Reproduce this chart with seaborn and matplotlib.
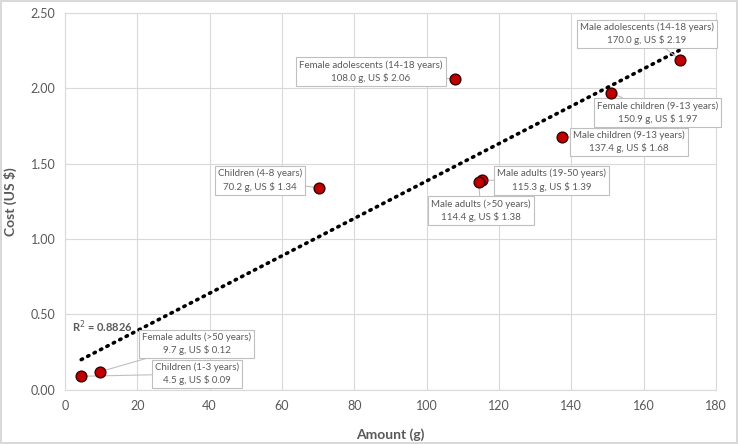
import numpy as np
import pandas as pd
import matplotlib
matplotlib.use("Agg")
import matplotlib.pyplot as plt
import seaborn as sns

# data
groups = [
    "Children (1-3 years)",
    "Children (4-8 years)",
    "Male children (9-13 years)",
    "Female children (9-13 years)",
    "Male adolescents (14-18 years)",
    "Female adolescents (14-18 years)",
    "Male adults (19-50 years)",
    "Male adults (>50 years)",
    "Female adults (>50 years)",
]
amount_g = [4.5, 70.2, 137.4, 150.9, 170.0, 108.0, 115.3, 114.4, 9.7]
cost_usd = [0.09, 1.34, 1.68, 1.97, 2.19, 2.06, 1.39, 1.38, 0.12]
r2_label = "R$^2$ = 0.8826"

# where each data label box sits (data coords)
label_pos = [
    (36.5, 0.106), (53.9, 1.39), (155.9, 1.645), (163.9, 1.84), (160.9, 2.36),
    (84.6, 2.11), (134.6, 1.39), (115.0, 1.19), (36.5, 0.305),
]

df = pd.DataFrame({"group": groups, "amount": amount_g, "cost": cost_usd})

sns.set_style("whitegrid")
plt.rcParams["font.family"] = ["Lato", "DejaVu Sans"]

fig, ax = plt.subplots(figsize=(7.38, 4.44), dpi=100)
fig.subplots_adjust(left=0.088, right=0.970, top=0.971, bottom=0.122)
fig.patch.set_edgecolor("#D9D9D9")
fig.patch.set_linewidth(1.5)

# linear trendline
slope, intercept = np.polyfit(df["amount"], df["cost"], 1)
xs = np.array([df["amount"].min(), df["amount"].max()])
ax.plot(xs, slope * xs + intercept, color="black", lw=2.6,
        linestyle=(0, (0.4, 1.6)), dash_capstyle="round", zorder=2)

sns.scatterplot(data=df, x="amount", y="cost", ax=ax, s=60, color="#C00000",
                edgecolor="#3a0000", linewidth=1.0, zorder=4)

for g, x, y, (lx, ly) in zip(groups, amount_g, cost_usd, label_pos):
    ax.annotate(f"{g}\n{x:.1f} g, US $ {y:.2f}", xy=(x, y), xytext=(lx, ly),
                ha="center", va="center", fontsize=7, color="#595959",
                linespacing=1.4,
                bbox=dict(boxstyle="square,pad=0.3", fc="white", ec="#BFBFBF", lw=0.8),
                arrowprops=dict(arrowstyle="-", color="#BFBFBF", lw=0.8,
                                shrinkA=0, shrinkB=2),
                zorder=3)

ax.text(2.0, 0.42, r2_label, fontsize=8, fontweight="bold",
        color="#595959", ha="left", va="center")

ax.set_xlim(0, 180)
ax.set_ylim(0, 2.5)
ax.set_xticks(np.arange(0, 181, 20))
ax.set_yticks(np.arange(0, 2.51, 0.5))
ax.yaxis.set_major_formatter(matplotlib.ticker.FormatStrFormatter("%.2f"))
ax.tick_params(colors="#595959", labelsize=9, length=0, pad=7)
ax.grid(True, color="#D9D9D9", lw=0.8)
for sp in ax.spines.values():
    sp.set_color("#D9D9D9")
    sp.set_linewidth(0.8)

ax.set_xlabel("Amount (g)", fontsize=10, fontweight="bold", color="#595959", labelpad=12)
ax.set_ylabel("Cost (US $)", fontsize=10, fontweight="bold", color="#595959", labelpad=10)

plt.savefig("out.png", dpi=100)
